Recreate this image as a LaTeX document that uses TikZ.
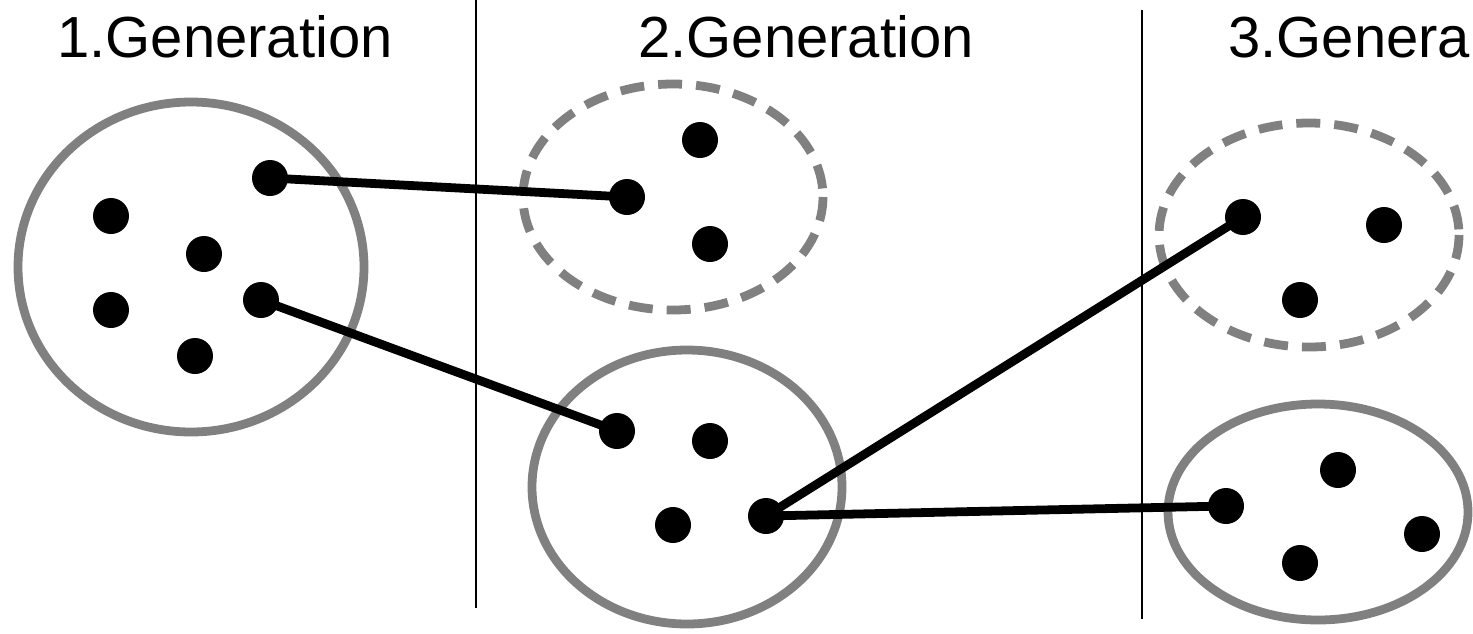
\documentclass[tikz,border=0pt]{standalone}
\usepackage{fontspec}
\setmainfont{Liberation Sans}
\begin{document}
\begin{tikzpicture}[x=0.02cm,y=-0.02cm]
\tikzstyle{dot}=[circle, fill=black, inner sep=0pt, minimum size=0.72cm]
\tikzstyle{grp}=[draw=gray, line width=5pt]
\tikzstyle{grpdash}=[grp, dash pattern=on 0.48cm off 0.28cm]
\tikzstyle{link}=[line width=5pt, line cap=round]
\tikzstyle{sep}=[line width=1.4pt]
\tikzstyle{gen}=[anchor=base west, inner sep=0pt, font=\fontsize{33}{40}\selectfont]
\useasboundingbox (0,0) rectangle (1473,633);
\node[gen] (g1) at (57,57){1.Generation};
\node[gen] (g2) at (638,57){2.Generation};
\node[gen] (g3) at (1228,57){3.Genera};
\coordinate (s1t) at (476,0);
\coordinate (s1b) at (476,608);
\coordinate (s2t) at (1142,10);
\coordinate (s2b) at (1142,619);
\draw[sep] (s1t) -- (s1b);
\draw[sep] (s2t) -- (s2b);
\draw[grp] (191,267) ellipse [x radius=173, y radius=165];
\draw[grpdash] (673,197) ellipse [x radius=150, y radius=113];
\draw[grp] (687,487) ellipse [x radius=155, y radius=137];
\draw[grpdash] (1309,235) ellipse [x radius=150, y radius=112];
\draw[grp] (1318,512) ellipse [x radius=150, y radius=108];
\tikzstyle{every node} = [dot];
\foreach \n/\x/\y in {a1/111/216, a2/270/178, a3/204/254, a4/111/310, a5/261/300, a6/195/356,
	b1/700/140, b2/627/197, b3/710/244,
	c1/617/431, c2/710/441, c3/673/525, c4/766/516,
	d1/1243/217, d2/1384/225, d3/1300/300,
	e1/1338/470, e2/1226/506, e3/1422/534, e4/1300/563}{
	\node (\n) at (\x,\y){};}
\draw[link] (a2.center) -- (b2.center);
\draw[link] (a5.center) -- (c1.center);
\draw[link] (c4.center) -- (d1.center);
\draw[link] (c4.center) -- (e2.center);
\end{tikzpicture}
\end{document}
